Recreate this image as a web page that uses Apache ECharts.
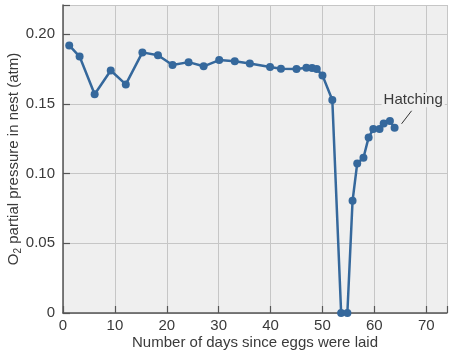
<!DOCTYPE html>
<html>
<head>
<meta charset="utf-8">
<script src="https://cdn.jsdelivr.net/npm/echarts@6/dist/echarts.min.js"></script>
<style>
  html, body { margin: 0; padding: 0; background: #fff; }
  #main { width: 452px; height: 353px; }
</style>
</head>
<body>
<div id="main"></div>
<script>
// days since eggs were laid / O2 partial pressure (atm)
var days = [1.2, 3.2, 6.1, 9.2, 12.1, 15.3, 18.3, 21.1, 24.2, 27.1, 30.1, 33.1, 36.0,
  39.9, 42.0, 45.0, 46.9, 48.0, 48.9, 50.0, 51.9, 53.6, 54.8, 55.8, 56.7, 57.9,
  58.9, 59.8, 61.0, 61.8, 63.0, 63.9]
var pressure = [0.192, 0.184, 0.157, 0.174, 0.164, 0.187, 0.185, 0.178, 0.180, 0.177, 0.1815, 0.1806, 0.179,
  0.1765, 0.1753, 0.175, 0.176, 0.1758, 0.175, 0.1705, 0.1528, 0, 0, 0.0805, 0.1073, 0.1114,
  0.126, 0.132, 0.132, 0.136, 0.1377, 0.1329]
var xTicks = [0, 10, 20, 30, 40, 50, 60, 70]
var yTicks = [0, 0.05, 0.10, 0.15, 0.20]
var hatchingLabel = 'Hatching'

var chart = echarts.init(document.getElementById('main'))
var textColor = '#3a3a3a'
var font = 'Liberation Sans, Arial, sans-serif'

var option = {
  animation: false,
  grid: {
    left: 63, right: 5, top: 5, bottom: 40,
    outerBoundsMode: 'none', containLabel: false,
    show: true, backgroundColor: '#efefef', borderWidth: 0
  },
  xAxis: {
    type: 'value', min: 0, max: 74, interval: 10,
    name: 'Number of days since eggs were laid',
    nameLocation: 'middle', nameGap: 22, nameMoveOverlap: false,
    nameTextStyle: { color: textColor, fontSize: 15, fontFamily: font },
    axisLine: { lineStyle: { color: '#555', width: 1.5 } },
    axisTick: { inside: true, length: 7, lineStyle: { color: '#555', width: 1.2 } },
    axisLabel: {
      color: textColor, fontSize: 15, fontFamily: font, margin: 5,
      formatter: function (v) { return xTicks.indexOf(v) >= 0 ? String(v) : '' }
    },
    splitLine: { lineStyle: { color: '#c6c6c6', width: 1 } }
  },
  yAxis: {
    type: 'value', min: 0, max: 0.221, interval: 0.05,
    name: '{a|O}{s|2}{a| partial pressure in nest (atm)}',
    nameLocation: 'middle', nameGap: 40, nameMoveOverlap: false,
    nameTextStyle: {
      rich: {
        a: { color: textColor, fontSize: 15, fontFamily: font },
        s: { color: textColor, fontSize: 10, fontFamily: font, padding: [8, 0, 0, 0] }
      }
    },
    axisLine: { show: true, lineStyle: { color: '#555', width: 1.5 } },
    axisTick: { show: true, inside: true, length: 7, lineStyle: { color: '#555', width: 1.2 } },
    axisLabel: {
      color: textColor, fontSize: 15, fontFamily: font, margin: 8,
      formatter: function (v) {
        for (var i = 0; i < yTicks.length; i++) {
          if (Math.abs(yTicks[i] - v) < 1e-9) return v === 0 ? '0' : yTicks[i].toFixed(2)
        }
        return ''
      }
    },
    splitLine: { lineStyle: { color: '#c6c6c6', width: 1 } }
  },
  series: [{
    type: 'line',
    data: days.map(function (d, i) { return [d, pressure[i]] }),
    symbol: 'circle', symbolSize: 8,
    itemStyle: { color: '#35689c' },
    lineStyle: { color: '#35689c', width: 2.5 }
  }]
}
chart.setOption(option)

// hatching annotation next to the last point
var last = chart.convertToPixel({ gridIndex: 0 }, [days[days.length - 1], pressure[pressure.length - 1]])
chart.setOption({
  graphic: [
    {
      type: 'line', silent: true,
      shape: { x1: last[0] + 7, y1: last[1] - 4, x2: last[0] + 17, y2: last[1] - 17 },
      style: { stroke: '#333', lineWidth: 1 }
    },
    {
      type: 'text', silent: true,
      x: last[0] - 13, y: last[1] - 28,
      style: {
        text: hatchingLabel, fill: textColor, fontSize: 15, fontFamily: font,
        verticalAlign: 'middle', backgroundColor: '#efefef', padding: [0, 2]
      }
    }
  ]
})
</script>
</body>
</html>
